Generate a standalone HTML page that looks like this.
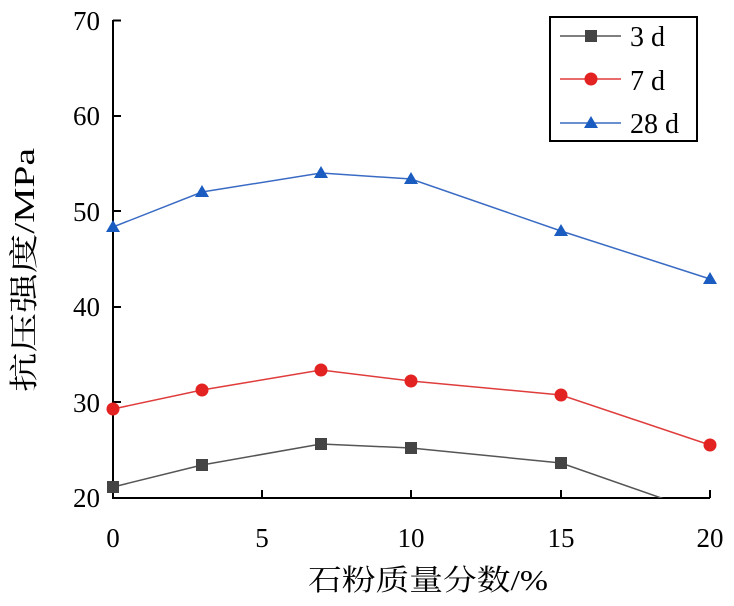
<!DOCTYPE html>
<html><head><meta charset="utf-8"><style>body{margin:0;background:#fff}svg{display:block}</style></head><body>
<svg width="734" height="606" viewBox="0 0 734 606" xmlns="http://www.w3.org/2000/svg" font-family="Liberation Serif, Noto Serif CJK SC, serif">
<defs><clipPath id="c"><rect x="113" y="18" width="600" height="480"/></clipPath></defs>
<g stroke="#000" stroke-width="2" fill="none">
<path d="M113,20 V498 H710"/>
<path d="M113,20.5h8M113,116h8M113,211h8M113,307h8M113,402h8"/>
<path d="M262,498v-8M411,498v-8M561,498v-8M710,498v-8"/>
</g>
<g font-size="27" text-anchor="end" fill="#000">
<text x="100" y="30">70</text><text x="100" y="125">60</text><text x="100" y="221">50</text><text x="100" y="316">40</text><text x="100" y="412">30</text><text x="100" y="507">20</text>
</g>
<g font-size="27" text-anchor="middle" fill="#000">
<text x="113" y="547">0</text><text x="262" y="547">5</text><text x="411" y="547">10</text><text x="561" y="547">15</text><text x="710" y="547">20</text>
</g>
<text x="308" y="590" font-size="29" textLength="240" lengthAdjust="spacingAndGlyphs">石粉质量分数/%</text>
<text transform="translate(34,392) rotate(-90)" font-size="29" textLength="244" lengthAdjust="spacingAndGlyphs">抗压强度/MPa</text>
<g clip-path="url(#c)">
<polyline fill="none" stroke="#555" stroke-width="1.5" points="113,487 202,465 321,444 411,448 561,463 710,515"/>
</g>
<g fill="#444"><rect x="107" y="481" width="12" height="12"/><rect x="196" y="459" width="12" height="12"/><rect x="315" y="438" width="12" height="12"/><rect x="405" y="442" width="12" height="12"/><rect x="555" y="457" width="12" height="12"/></g>
<polyline fill="none" stroke="#e03c3c" stroke-width="1.5" points="113,409 202,390 321,370 411,381 561,395 710,445"/>
<g fill="#e32222"><circle cx="113" cy="409" r="6.5"/><circle cx="202" cy="390" r="6.5"/><circle cx="321" cy="370" r="6.5"/><circle cx="411" cy="381" r="6.5"/><circle cx="561" cy="395" r="6.5"/><circle cx="710" cy="445" r="6.5"/></g>
<polyline fill="none" stroke="#3a6bc4" stroke-width="1.5" points="113,227 202,192 321,173 411,179 561,231 710,279"/>
<g fill="#1a5cc0"><path d="M113,220l7,12h-14z"/><path d="M202,185l7,12h-14z"/><path d="M321,166l7,12h-14z"/><path d="M411,172l7,12h-14z"/><path d="M561,224l7,12h-14z"/><path d="M710,272l7,12h-14z"/></g>
<rect x="550" y="17" width="147" height="124" fill="#fff" stroke="#000" stroke-width="2"/>
<line x1="560" y1="36" x2="621" y2="36" stroke="#555" stroke-width="1.5"/><rect x="585" y="30" width="12" height="12" fill="#444"/>
<line x1="560" y1="79" x2="621" y2="79" stroke="#e03c3c" stroke-width="1.5"/><circle cx="591" cy="79" r="6.5" fill="#e32222"/>
<line x1="560" y1="123" x2="621" y2="123" stroke="#3a6bc4" stroke-width="1.5"/><path d="M591,116l7,12h-14z" fill="#1a5cc0"/>
<g font-size="28" fill="#000"><text x="630" y="46">3 d</text><text x="630" y="90">7 d</text><text x="630" y="133">28 d</text></g>
</svg>
</body></html>
